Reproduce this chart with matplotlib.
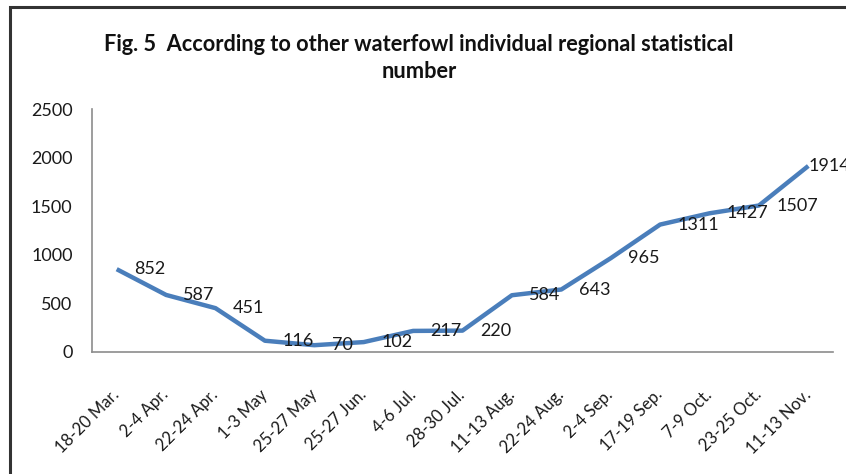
import matplotlib
matplotlib.use("Agg")
import matplotlib.pyplot as plt
from matplotlib.patches import Rectangle

periods = ["18-20 Mar.", "2-4 Apr.", "22-24 Apr.", "1-3 May", "25-27 May",
           "25-27 Jun.", "4-6 Jul.", "28-30 Jul.", "11-13 Aug.", "22-24 Aug.",
           "2-4 Sep.", "17-19 Sep.", "7-9 Oct.", "23-25 Oct.", "11-13 Nov."]
counts = [852, 587, 451, 116, 70, 102, 217, 220, 584, 643, 965, 1311, 1427, 1507, 1914]
y_ticks = [0, 500, 1000, 1500, 2000, 2500]
title = "Fig. 5  According to other waterfowl individual regional statistical\nnumber"

plt.rcParams["font.family"] = ["Lato", "DejaVu Sans"]

fig = plt.figure(figsize=(8.46, 4.74), dpi=100)
ax = fig.add_axes([92 / 846, 1 - 352 / 474, (833 - 92) / 846, (352 - 109) / 474])

x = list(range(len(periods)))
ax.plot(x, counts, color="#4a7ebb", lw=3.2, solid_capstyle="butt", solid_joinstyle="round")

for i, v in enumerate(counts):
    dx = 12.5 if i < len(counts) - 1 else 0.5
    ax.annotate(str(v), (i, v), xytext=(dx, 0), textcoords="offset points",
                ha="left", va="center", fontsize=13, color="#1a1a1a",
                annotation_clip=False)

ax.set_xlim(-0.5, len(periods) - 0.5)
ax.set_ylim(0, 2500)
ax.set_yticks(y_ticks)
ax.set_yticklabels([str(t) for t in y_ticks], fontsize=13, color="#1a1a1a")
ax.set_xticks(x)
ax.set_xticklabels(periods, rotation=45, ha="right", va="center",
                   rotation_mode="anchor", fontsize=12, color="#1a1a1a")
ax.tick_params(axis="both", length=0)
ax.tick_params(axis="x", pad=29)
ax.tick_params(axis="y", pad=14)

for side in ("top", "right"):
    ax.spines[side].set_visible(False)
for side in ("left", "bottom"):
    ax.spines[side].set_color("#8c8c8c")
    ax.spines[side].set_linewidth(1.2)

fig.text(419 / 846, 1 - 58 / 474, title, ha="center", va="center",
         fontsize=15.7, fontweight="bold", color="#111111", linespacing=1.3)

# chart frame (continues past the right and bottom edges)
fig.patches.append(Rectangle((10 / 846, -0.5), 2.0, 1.5 - 7 / 474,
                             transform=fig.transFigure, fill=False,
                             edgecolor="#333333", lw=2.2, clip_on=False))

fig.savefig("out.png", dpi=100)
